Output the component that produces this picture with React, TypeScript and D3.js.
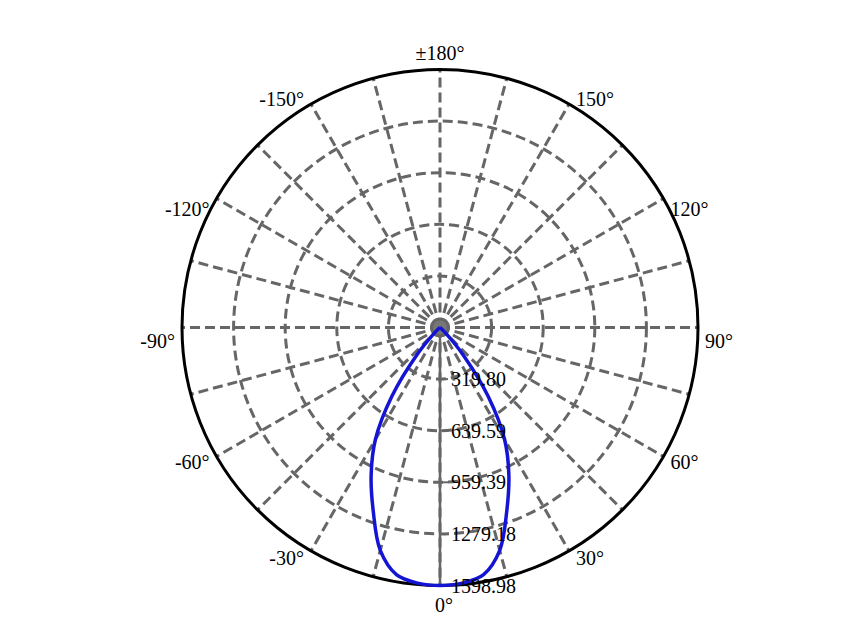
import * as d3 from "d3";

// luminous intensity (cd), angle 0 = straight down
const curveAngles = [-60, -55, -50, -45, -40, -35, -30, -25, -20, -15, -10, -5, 0, 5, 10, 15, 20, 25, 30, 35, 40, 45, 50, 55, 60];
const curveValues = [0, 0, 5, 50, 230, 520, 800, 1010, 1210, 1430, 1555, 1590, 1598.98, 1590, 1555, 1430, 1210, 1010, 800, 520, 230, 50, 5, 0, 0];

const ringValues = [319.8, 639.59, 959.39, 1279.18, 1598.98];
const ringLabels = ["319.80", "639.59", "959.39", "1279.18", "1598.98"];

const spokeAngles = d3.range(-180, 180, 15);
const angleTicks = [0, 30, 60, 90, 120, 150, 180, -30, -60, -90, -120, -150];
const angleLabels = ["0°", "30°", "60°", "90°", "120°", "150°", "±180°", "-30°", "-60°", "-90°", "-120°", "-150°"];

const W = 867;
const H = 644;
const CX = 440;
const CY = 327.5;
const R = 258;
const FONT = "'Liberation Serif', 'Times New Roman', serif";
const GRID = "#666666";

// vertical nudge of the side labels, by |angle|
const labelDy = d3.scaleLinear().domain([30, 60, 90, 120, 150]).range([7, 5, 13, 10, -5]);

export default function App() {
  const r = d3.scaleLinear().domain([0, 1598.98]).range([0, R]);
  const rad = (a: number) => (a * Math.PI) / 180;
  // screen point for angle a (0 = down, positive toward the right)
  const pt = (a: number, v: number) => [CX + v * Math.sin(rad(a)), CY + v * Math.cos(rad(a))];

  const pts = curveAngles.map((a, i) => ({ a, v: curveValues[i] }));
  const line = d3
    .line<{ a: number; v: number }>()
    .x(d => pt(d.a, r(d.v))[0])
    .y(d => pt(d.a, r(d.v))[1])
    .curve(d3.curveCatmullRom.alpha(0.5));

  return (
    <div style={{ position: "absolute", left: 0, top: 0, background: "#fff" }}>
      <svg width={W} height={H} style={{ display: "block" }}>
        <rect width={W} height={H} fill="#fff" />

        {/* dashed rings */}
        {ringValues.slice(0, -1).map(v => (
          <circle key={v} cx={CX} cy={CY} r={r(v)} fill="none" stroke={GRID}
            strokeWidth={3} strokeDasharray="10 5" />
        ))}

        {/* dashed spokes */}
        {spokeAngles.map(a => {
          const [x2, y2] = pt(a, R);
          return (
            <line key={a} x1={CX} y1={CY} x2={x2} y2={y2} stroke={GRID}
              strokeWidth={3} strokeDasharray="10 5" />
          );
        })}

        {/* value axis along 0° */}
        <line x1={CX} y1={CY} x2={CX} y2={CY + R} stroke={GRID} strokeWidth={2.5} />
        {ringValues.map(v => (
          <line key={"t" + v} x1={CX} x2={CX + 8} y1={CY + r(v)} y2={CY + r(v)}
            stroke={GRID} strokeWidth={2} />
        ))}

        {/* outer circle */}
        <circle cx={CX} cy={CY} r={R} fill="none" stroke="#000" strokeWidth={3} />

        {/* center dot */}
        <circle cx={CX} cy={CY} r={7} fill="#777" />

        {/* intensity curve */}
        <path d={line(pts) ?? ""} fill="none" stroke="#1414d4" strokeWidth={3.5}
          strokeLinejoin="round" />

        {/* ring labels */}
        {ringValues.map((v, i) => (
          <text key={"l" + v} x={CX + 11} y={CY + r(v)} dy="0.35em" fontFamily={FONT}
            fontSize={20} fill="#000">
            {ringLabels[i]}
          </text>
        ))}

        {/* angle labels */}
        {angleTicks.map((a, i) => {
          const [px, py] = pt(a, R);
          let x = px;
          let y = py;
          let anchor: "start" | "middle" | "end" = "middle";
          if (a === 0) {
            x = px + 4;
            y = py + 19;
          } else if (a === 180) {
            y = py - 17;
          } else {
            y = py + labelDy(Math.abs(a));
            x = a > 0 ? px + 7 : px - 7;
            anchor = a > 0 ? "start" : "end";
          }
          return (
            <text key={"a" + a} x={x} y={y} dy="0.35em" textAnchor={anchor}
              fontFamily={FONT} fontSize={20} fill="#000">
              {angleLabels[i]}
            </text>
          );
        })}
      </svg>
    </div>
  );
}
